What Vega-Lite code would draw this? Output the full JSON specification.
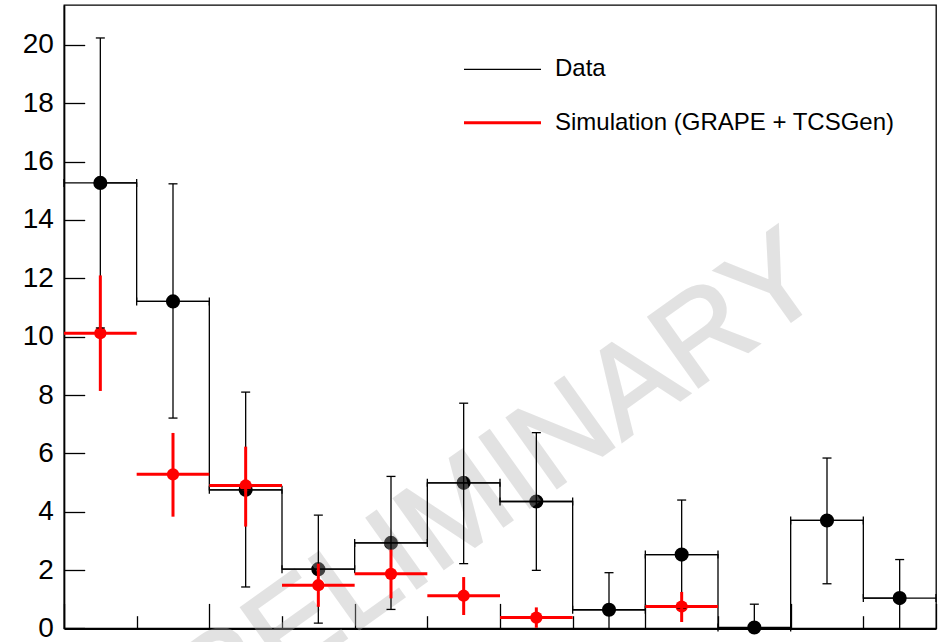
{
  "$schema": "https://vega.github.io/schema/vega-lite/v6.json",
  "autosize": {"type": "none"},
  "width": 872,
  "height": 623.4,
  "padding": {"left": 64, "top": 5, "right": 5, "bottom": 13.6},
  "background": "white",
  "config": {
    "view": {"stroke": "black", "strokeWidth": 1.3},
    "font": "Liberation Sans"
  },
  "datasets": {
    "data": [
      {"bin": 1, "x0": 0, "x1": 1, "c": 0.5, "v": 15.27, "lo": 10.30, "hi": 20.24},
      {"bin": 2, "x0": 1, "x1": 2, "c": 1.5, "v": 11.21, "lo": 7.21, "hi": 15.24},
      {"bin": 3, "x0": 2, "x1": 3, "c": 2.5, "v": 4.75, "lo": 1.42, "hi": 8.10},
      {"bin": 4, "x0": 3, "x1": 4, "c": 3.5, "v": 2.03, "lo": 0.18, "hi": 3.88},
      {"bin": 5, "x0": 4, "x1": 5, "c": 4.5, "v": 2.93, "lo": 0.65, "hi": 5.21},
      {"bin": 6, "x0": 5, "x1": 6, "c": 5.5, "v": 4.99, "lo": 2.22, "hi": 7.72},
      {"bin": 7, "x0": 6, "x1": 7, "c": 6.5, "v": 4.35, "lo": 1.99, "hi": 6.71},
      {"bin": 8, "x0": 7, "x1": 8, "c": 7.5, "v": 0.64, "lo": -0.63, "hi": 1.91},
      {"bin": 9, "x0": 8, "x1": 9, "c": 8.5, "v": 2.53, "lo": 0.70, "hi": 4.40},
      {"bin": 10, "x0": 9, "x1": 10, "c": 9.5, "v": 0.03, "lo": -0.80, "hi": 0.83},
      {"bin": 11, "x0": 10, "x1": 11, "c": 10.5, "v": 3.70, "lo": 1.53, "hi": 5.84},
      {"bin": 12, "x0": 11, "x1": 12, "c": 11.5, "v": 1.04, "lo": -0.28, "hi": 2.36}
    ],
    "sim": [
      {"bin": 1, "x0": 0, "x1": 1, "c": 0.5, "v": 10.12, "lo": 8.14, "hi": 12.10},
      {"bin": 2, "x0": 1, "x1": 2, "c": 1.5, "v": 5.28, "lo": 3.83, "hi": 6.70},
      {"bin": 3, "x0": 2, "x1": 3, "c": 2.5, "v": 4.90, "lo": 3.49, "hi": 6.23},
      {"bin": 4, "x0": 3, "x1": 4, "c": 3.5, "v": 1.48, "lo": 0.74, "hi": 2.22},
      {"bin": 5, "x0": 4, "x1": 5, "c": 4.5, "v": 1.87, "lo": 1.03, "hi": 2.70},
      {"bin": 6, "x0": 5, "x1": 6, "c": 5.5, "v": 1.12, "lo": 0.46, "hi": 1.76},
      {"bin": 7, "x0": 6, "x1": 7, "c": 6.5, "v": 0.37, "lo": 0.02, "hi": 0.72},
      {"bin": 9, "x0": 8, "x1": 9, "c": 8.5, "v": 0.75, "lo": 0.22, "hi": 1.25}
    ]
  },
  "layer": [
    {
      "data": {"name": "data"},
      "mark": {"type": "point", "shape": "circle", "filled": true, "size": 200, "color": "black", "opacity": 1},
      "encoding": {
        "x": {
          "field": "c", "type": "quantitative", "title": null,
          "scale": {"domain": [0, 12], "nice": false, "zero": false},
          "axis": {
            "values": [0,0.5,1,1.5,2,2.5,3,3.5,4,4.5,5,5.5,6,6.5,7,7.5,8,8.5,9,9.5,10,10.5,11,11.5,12],
            "labels": false,
            "grid": false,
            "domainColor": "black",
            "domainWidth": 2.3,
            "tickColor": "black",
            "tickWidth": 1.3,
            "tickSize": {"condition": {"test": "datum.value % 2 === 0", "value": -25}, "value": -12.7}
          }
        },
        "y": {
          "field": "v", "type": "quantitative", "title": null,
          "scale": {"domain": [0, 21.37], "nice": false, "zero": false},
          "axis": {
            "values": [0,0.5,1,1.5,2,2.5,3,3.5,4,4.5,5,5.5,6,6.5,7,7.5,8,8.5,9,9.5,10,10.5,11,11.5,12,12.5,13,13.5,14,14.5,15,15.5,16,16.5,17,17.5,18,18.5,19,19.5,20,20.5,21],
            "labelExpr": "datum.value % 2 === 0 ? datum.label : ''",
            "grid": false,
            "domainColor": "black",
            "domainWidth": 1.7,
            "tickColor": "black",
            "tickWidth": 1.3,
            "tickSize": {"condition": {"test": "datum.value % 2 === 0", "value": -20.7}, "value": -12.3},
            "labelFont": "Liberation Sans",
            "labelFontSize": 28,
            "labelColor": "black",
            "labelPadding": 31.4,
            "labelOverlap": false,
            "labelFlush": false
          }
        }
      }
    },
    {
      "data": {"name": "sim"},
      "mark": {"type": "point", "shape": "circle", "filled": true, "size": 150, "color": "#ff0000", "opacity": 1},
      "encoding": {
        "x": {"field": "c", "type": "quantitative", "title": null},
        "y": {"field": "v", "type": "quantitative", "title": null}
      }
    },
    {
      "data": {"values": [{"label": "PRELIMINARY"}]},
      "mark": {"type": "text", "font": "Liberation Sans", "fontSize": 125, "angle": -35.5, "align": "center", "baseline": "middle", "fill": "#b2b2b2", "stroke": "#b2b2b2", "strokeWidth": 2.5, "opacity": 0.365},
      "encoding": {
        "x": {"datum": 5.5},
        "y": {"datum": 4.13},
        "text": {"field": "label"}
      }
    },
    {
      "data": {"name": "data"},
      "mark": {"type": "line", "interpolate": "step", "strokeWidth": 1.3},
      "encoding": {
        "x": {"field": "c", "type": "quantitative", "title": null},
        "y": {"field": "v", "type": "quantitative", "title": null},
        "color": {
          "datum": "Data",
          "scale": {"domain": ["Data", "Simulation (GRAPE + TCSGen)"], "range": ["#000000", "#ff0000"]},
          "legend": {
            "title": null,
            "orient": "none",
            "legendX": 398,
            "legendY": 52.3,
            "padding": 0,
            "symbolType": "stroke",
            "symbolSize": 5929,
            "symbolStrokeWidth": 2,
            "symbolOffset": 28.5,
            "labelFont": "Liberation Sans",
            "labelFontSize": 24,
            "labelColor": "black",
            "labelLimit": 600,
            "labelOffset": 40.5,
            "rowPadding": 29.4,
            "encode": {"symbols": {"update": {"strokeWidth": {"signal": "datum.value === 'Data' ? 1.3 : 3"}}}}
          }
        }
      }
    },
    {
      "data": {"name": "data"},
      "mark": {"type": "rule", "color": "black", "strokeWidth": 1.3},
      "encoding": {
        "x": {"field": "x0", "type": "quantitative", "title": null},
        "x2": {"field": "x1"},
        "y": {"field": "v", "type": "quantitative", "title": null}
      }
    },
    {
      "data": {"name": "data"},
      "mark": {"type": "tick", "orient": "vertical", "size": 8, "thickness": 1.3, "color": "black", "opacity": 1},
      "encoding": {
        "x": {"field": "x0", "type": "quantitative", "title": null},
        "y": {"field": "v", "type": "quantitative", "title": null}
      }
    },
    {
      "data": {"name": "data"},
      "mark": {"type": "tick", "orient": "vertical", "size": 8, "thickness": 1.3, "color": "black", "opacity": 1},
      "encoding": {
        "x": {"field": "x1", "type": "quantitative", "title": null},
        "y": {"field": "v", "type": "quantitative", "title": null}
      }
    },
    {
      "data": {"name": "data"},
      "mark": {"type": "rule", "color": "black", "strokeWidth": 1.3, "clip": true},
      "encoding": {
        "x": {"field": "c", "type": "quantitative", "title": null},
        "y": {"field": "lo", "type": "quantitative", "title": null},
        "y2": {"field": "hi"}
      }
    },
    {
      "data": {"name": "data"},
      "mark": {"type": "tick", "orient": "horizontal", "size": 9, "thickness": 1.3, "color": "black", "opacity": 1},
      "encoding": {
        "x": {"field": "c", "type": "quantitative", "title": null},
        "y": {"field": "hi", "type": "quantitative", "title": null}
      }
    },
    {
      "data": {"name": "data"},
      "transform": [{"filter": "datum.lo > 0"}],
      "mark": {"type": "tick", "orient": "horizontal", "size": 9, "thickness": 1.3, "color": "black", "opacity": 1},
      "encoding": {
        "x": {"field": "c", "type": "quantitative", "title": null},
        "y": {"field": "lo", "type": "quantitative", "title": null}
      }
    },
    {
      "data": {"name": "sim"},
      "mark": {"type": "rule", "strokeWidth": 3},
      "encoding": {
        "x": {"field": "x0", "type": "quantitative", "title": null},
        "x2": {"field": "x1"},
        "y": {"field": "v", "type": "quantitative", "title": null},
        "color": {"datum": "Simulation (GRAPE + TCSGen)"}
      }
    },
    {
      "data": {"name": "sim"},
      "mark": {"type": "rule", "color": "#ff0000", "strokeWidth": 3},
      "encoding": {
        "x": {"field": "c", "type": "quantitative", "title": null},
        "y": {"field": "lo", "type": "quantitative", "title": null},
        "y2": {"field": "hi"}
      }
    }
  ]
}
